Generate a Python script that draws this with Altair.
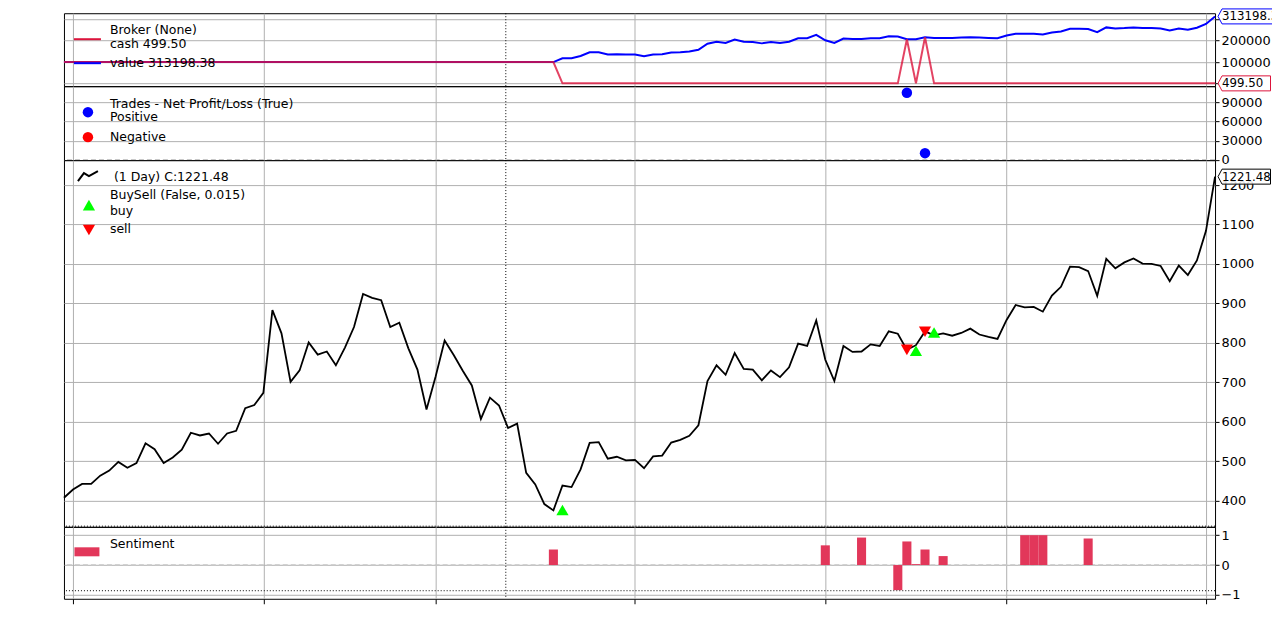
import altair as alt
import pandas as pd

# close price of the data feed, one value per bar
close = [
    407, 428, 442, 442, 463, 476, 498, 483, 495, 545,
    530, 495, 509, 529, 572, 565, 570, 544, 570, 577,
    634, 642, 673, 883, 824, 701, 730, 801, 770, 778,
    743, 788, 840, 924, 914, 908, 840, 851, 786, 732,
    631, 714, 806, 769, 729, 692, 607, 661, 641, 584,
    595, 470, 441, 391, 375, 438, 434, 479, 546, 548,
    506, 511, 502, 503, 482, 512, 514, 547, 554, 564,
    591, 703, 743, 719, 774, 734, 732, 705, 730, 713,
    738, 798, 792, 857, 757, 703, 792, 777, 778, 796,
    792, 829, 823, 782, 794, 829, 819, 824, 818, 825,
    836, 821, 815, 810, 858, 896, 890, 891, 879, 920,
    942, 993, 992, 982, 919, 1013, 989, 1004, 1014, 1001,
    1000, 995, 956, 996, 972, 1009, 1084, 1221.48,
]

# broker observer
value = [100000.0] * 55 + [
    117500, 117500, 128600, 146000, 146000, 135000, 136500, 135000, 135000, 127000,
    135000, 136500, 144400, 146000, 149200, 157000, 185700, 195000, 188900, 204800,
    195000, 193600, 187300, 193600, 188900, 195000, 211000, 211000, 227000, 201600,
    188900, 209500, 208000, 208000, 211000, 211000, 220600, 219000, 206300, 206300,
    215900, 212700, 212700, 212700, 214300, 215900, 214300, 212700, 211000, 223800,
    231700, 231700, 231700, 228600, 238100, 242900, 255600, 255600, 254000, 239700,
    261900, 257100, 258700, 261900, 258700, 258700, 257100, 247600, 257100, 250800,
    260300, 277800, 313198.38,
]
cash = [100000.0] * 55 + [499.5] * 38 + [206300, 499.5, 215900] + [499.5] * 32

# trades observer
trade_bar = [93, 95]
trade_pnl = [105000, 10400]

# buy / sell observer
buy_bar = [55, 94, 96]
buy_price = [376, 780, 826]
sell_bar = [93, 95]
sell_price = [782, 828]

# sentiment indicator
sent_bar = [54, 84, 88, 92, 93, 94, 95, 97, 106, 107, 108, 113]
sent_val = [0.52, 0.66, 0.92, -0.84, 0.79, 0.03, 0.52, 0.30, 1.0, 1.0, 1.0, 0.89]

month_ticks = [1, 22, 41, 63, 84, 104, 126]
cursor_bar = 48.75
cursor_price = 335
cursor_sent = -0.86

FONT = "DejaVu Sans"
W = 1152
CRIMSON = "#dc143c"
last = len(close) - 1

df = pd.DataFrame({"bar": range(len(close)), "close": close, "value": value, "cash": cash})
one = pd.DataFrame({"k": [0]})
xs = alt.Scale(domain=[0, last], nice=False, zero=False)


def x_axis(bottom=False):
    return alt.Axis(values=month_ticks, labels=False, title=None, domain=False,
                    ticks=bottom, tickSize=5, tickColor="black", grid=True)


def y_axis(vals, hide=()):
    expr = "datum.label"
    if hide:
        expr = " || ".join(f"datum.value == {h}" for h in hide) + " ? '' : datum.label"
    return alt.Axis(values=vals, format="d", orient="right", title=None, domain=False,
                    grid=True, tickSize=4, tickColor="black", labelPadding=2,
                    labelFontSize=12.9, labelColor="black", labelFont=FONT, labelExpr=expr)


def panel_enc(ydom, yvals, bottom=False, hide=()):
    ys = alt.Scale(domain=ydom, nice=False, zero=False)

    def X(field=None, **kw):
        if field is None:
            return alt.X(scale=xs, axis=x_axis(bottom), **kw)
        return alt.X(field, scale=xs, axis=x_axis(bottom), **kw)

    def Y(field=None, **kw):
        if field is None:
            return alt.Y(scale=ys, axis=y_axis(yvals, hide), **kw)
        return alt.Y(field, scale=ys, axis=y_axis(yvals, hide), **kw)

    return X, Y


def label(text, x, y, size=12.5):
    return alt.Chart(one).mark_text(
        text=text, align="left", baseline="middle", font=FONT, fontSize=size, color="black"
    ).encode(x=alt.value(x), y=alt.value(y))


def glyph(shape, x, y, color, size=4, filled=True, sw=1):
    props = dict(shape=shape, size=size, filled=filled, opacity=1, strokeWidth=sw)
    if filled:
        props["fill"] = color
        props["strokeOpacity"] = 0
    else:
        props["stroke"] = color
    return alt.Chart(one).mark_point(**props).encode(x=alt.value(x), y=alt.value(y))


def tag(X, Y, yval, color, width):
    data = pd.DataFrame({"bar": [last], "y": [yval], "t": [f"{yval:.2f}"]})
    path = f"M3,0 L7,-7.5 L{width},-7.5 L{width},7.5 L7,7.5 Z"
    base = alt.Chart(data).encode(x=X("bar:Q"), y=Y("y:Q"))
    box = base.mark_point(shape=path, size=4, filled=True, fill="white", fillOpacity=0.85,
                          stroke=color, strokeWidth=1, opacity=1)
    txt = base.mark_text(align="left", baseline="middle", dx=7, font=FONT, fontSize=11.8,
                         color="black").encode(text="t:N")
    return box + txt


def cursor(X):
    return alt.Chart(one).mark_rule(color="black", strokeDash=[1, 2], strokeWidth=1).encode(
        x=X(datum=cursor_bar))


# ---- broker panel
X1, Y1 = panel_enc([-12600, 328000], [0, 100000, 200000, 300000], hide=(0, 300000))
base1 = alt.Chart(df).encode(x=X1("bar:Q"))
broker = alt.layer(
    cursor(X1),
    base1.mark_line(color="blue", strokeWidth=2).encode(y=Y1("value:Q")),
    base1.mark_line(color=CRIMSON, strokeWidth=2, opacity=0.8).encode(y=Y1("cash:Q")),
    tag(X1, Y1, value[-1], "blue", 64),
    tag(X1, Y1, cash[-1], CRIMSON, 55.5),
    alt.Chart(one).mark_rule(color=CRIMSON, strokeWidth=2).encode(
        x=alt.value(10), x2=alt.value(37), y=alt.value(26)),
    alt.Chart(one).mark_rule(color="blue", strokeWidth=2).encode(
        x=alt.value(10), x2=alt.value(37), y=alt.value(50)),
    label("Broker (None)", 46, 17),
    label("cash 499.50", 46, 31),
    label("value 313198.38", 46, 50),
).properties(width=W, height=73)

# ---- trades panel
X2, Y2 = panel_enc([-500, 115400], [0, 30000, 60000, 90000])
tdf = pd.DataFrame({"bar": trade_bar, "pnl": trade_pnl})
trades = alt.layer(
    alt.Chart(one).mark_rule(color="#c8c8c8", strokeDash=[5, 3], strokeWidth=1.5).encode(
        y=Y2(datum=0)),
    cursor(X2),
    alt.Chart(tdf).mark_point(shape="circle", size=110, filled=True, color="blue", opacity=1).encode(
        x=X2("bar:Q"), y=Y2("pnl:Q")),
    glyph("circle", 24, 26, "blue", size=110),
    glyph("circle", 24, 51, "red", size=110),
    label("Trades - Net Profit/Loss (True)", 46, 18),
    label("Positive", 46, 31),
    label("Negative", 46, 51),
).properties(width=W, height=74)

# ---- price panel
X3, Y3 = panel_enc([333.3, 1263.4], list(range(400, 1201, 100)))
bdf = pd.DataFrame({"bar": buy_bar, "p": buy_price})
sdf = pd.DataFrame({"bar": sell_bar, "p": sell_price})
price = alt.layer(
    alt.Chart(one).mark_rule(color="black", strokeDash=[1, 2], strokeWidth=1).encode(
        y=Y3(datum=cursor_price)),
    cursor(X3),
    alt.Chart(df).mark_line(color="black", strokeWidth=1.8).encode(x=X3("bar:Q"), y=Y3("close:Q")),
    alt.Chart(sdf).mark_point(shape="triangle-down", size=150, filled=True, color="red", opacity=1).encode(
        x=X3("bar:Q"), y=Y3("p:Q")),
    alt.Chart(bdf).mark_point(shape="triangle-up", size=150, filled=True, color="#00ff00", opacity=1).encode(
        x=X3("bar:Q"), y=Y3("p:Q")),
    tag(X3, Y3, close[-1], "black", 55.5),
    glyph("M-10,5 L-4,-3 L1,0 L10,-5", 24, 16, "black", filled=False, sw=2),
    glyph("triangle-up", 25, 45, "#00ff00", size=150),
    glyph("triangle-down", 25, 70, "red", size=150),
    label("(1 Day) C:1221.48", 50, 17),
    label("BuySell (False, 0.015)", 46, 35),
    label("buy", 46, 51),
    label("sell", 46, 69),
).properties(width=W, height=367)

# ---- sentiment panel
X4, Y4 = panel_enc([-1.13, 1.28], [-1, 0, 1], bottom=True)
sent = pd.DataFrame({"bar": sent_bar, "v": sent_val})
sent["x0"] = sent["bar"] - 0.5
sent["x1"] = sent["bar"] + 0.5
sentiment = alt.layer(
    alt.Chart(one).mark_rule(color="#c8c8c8", strokeDash=[5, 3], strokeWidth=1.5).encode(
        y=Y4(datum=0)),
    alt.Chart(one).mark_rule(color="black", strokeDash=[1, 2], strokeWidth=1).encode(
        y=Y4(datum=cursor_sent)),
    cursor(X4),
    alt.Chart(sent).mark_bar(color="#e2375a").encode(
        x=X4("x0:Q"), x2="x1:Q", y=Y4("v:Q"), y2=alt.Y2(datum=0)),
    glyph("M-12.5,-4.5 L12.5,-4.5 L12.5,4.5 L-12.5,4.5 Z", 23, 25, "#e2375a"),
    label("Sentiment", 46, 17),
).properties(width=W, height=72)

chart = (
    alt.vconcat(broker, trades, price, sentiment, spacing=0, bounds="flush")
    .properties(padding={"left": 51, "top": -2, "right": -15, "bottom": 0})
    .configure_view(stroke="black", strokeWidth=1)
    .configure_axis(gridColor="#b0b0b0", gridWidth=1, gridOpacity=1)
)

chart.save("out.html", embed_options={"renderer": "svg", "actions": False})
